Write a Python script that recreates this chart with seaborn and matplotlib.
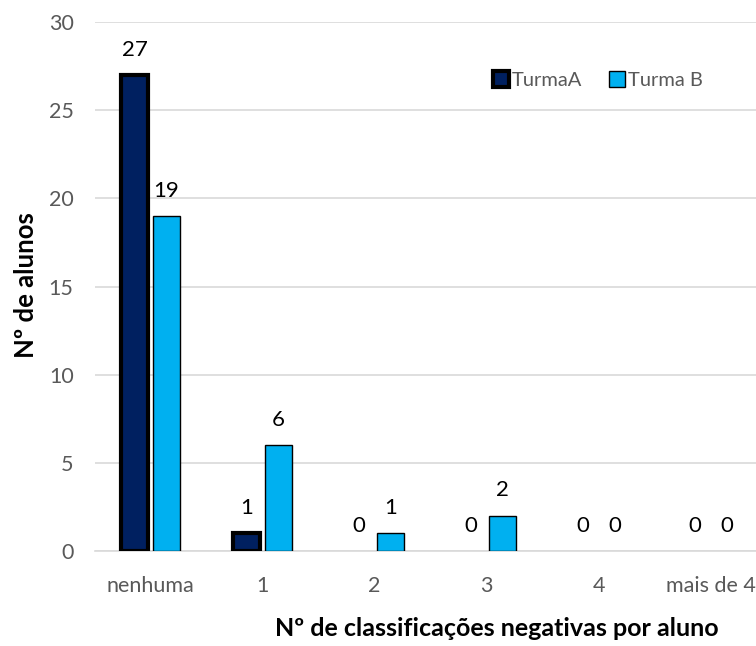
import matplotlib
matplotlib.use("Agg")
import matplotlib.pyplot as plt
import seaborn as sns
import pandas as pd
from matplotlib.patches import Patch

categories = ["nenhuma", "1", "2", "3", "4", "mais de 4"]
turma_a = [27, 1, 0, 0, 0, 0]
turma_b = [19, 6, 1, 2, 0, 0]
series = ["TurmaA", "Turma B"]
colors = ["#002060", "#00B0F0"]

df = pd.DataFrame({
    "cat": categories * 2,
    "val": turma_a + turma_b,
    "serie": [series[0]] * len(categories) + [series[1]] * len(categories),
})

sns.set_theme(style="white")
plt.rcParams["font.family"] = ["Lato", "DejaVu Sans"]

fig = plt.figure(figsize=(7.56, 6.46), dpi=100)
ax = fig.add_axes([0.125, 0.147, 0.889, 0.819])

sns.barplot(data=df, x="cat", y="val", hue="serie", palette=colors,
            width=0.57, gap=0.16, ax=ax, legend=False, saturation=1)

for i, cont in enumerate(ax.containers):
    for p in cont:
        p.set_edgecolor("black")
        lw = 3.0 if i == 0 else 1.0
        if p.get_height() == 0:
            lw = 0
        p.set_linewidth(lw)
        p.set_zorder(3)
    ax.bar_label(cont, fontsize=16, color="black", padding=11)

ax.set_ylim(0, 30)
ax.set_xlim(-0.5, 5.5)
ax.set_yticks([0, 5, 10, 15, 20, 25, 30])
ax.yaxis.grid(True, color="#D9D9D9", linewidth=1.2, zorder=0)
ax.set_axisbelow(True)
for s in ["top", "right", "left"]:
    ax.spines[s].set_visible(False)
ax.spines["bottom"].set_color("#D9D9D9")
ax.spines["bottom"].set_linewidth(1.2)
ax.tick_params(axis="both", colors="#595959", labelsize=15.5, length=0)
ax.tick_params(axis="x", pad=18)
ax.tick_params(axis="y", pad=15)
ax.set_xlabel("")
ax.set_ylabel("")

fig.text(0.034, 0.558, "Nº de alunos", rotation=90, fontsize=18.5, fontweight="bold",
         ha="center", va="center", color="black")
fig.text(0.657, 0.027, "Nº de classificações negativas por aluno", fontsize=18,
         fontweight="bold", ha="center", va="center", color="black")

handles = [Patch(facecolor=colors[0], edgecolor="black", linewidth=3.0),
           Patch(facecolor=colors[1], edgecolor="black", linewidth=1.0)]
fig.legend(handles, series, loc="center left", bbox_to_anchor=(0.628, 0.876),
           ncol=2, frameon=False, fontsize=14.5, handlelength=0.8, handleheight=0.8,
           handletextpad=0.15, columnspacing=1.3, labelcolor="#595959")

fig.savefig("out.png", dpi=100)
